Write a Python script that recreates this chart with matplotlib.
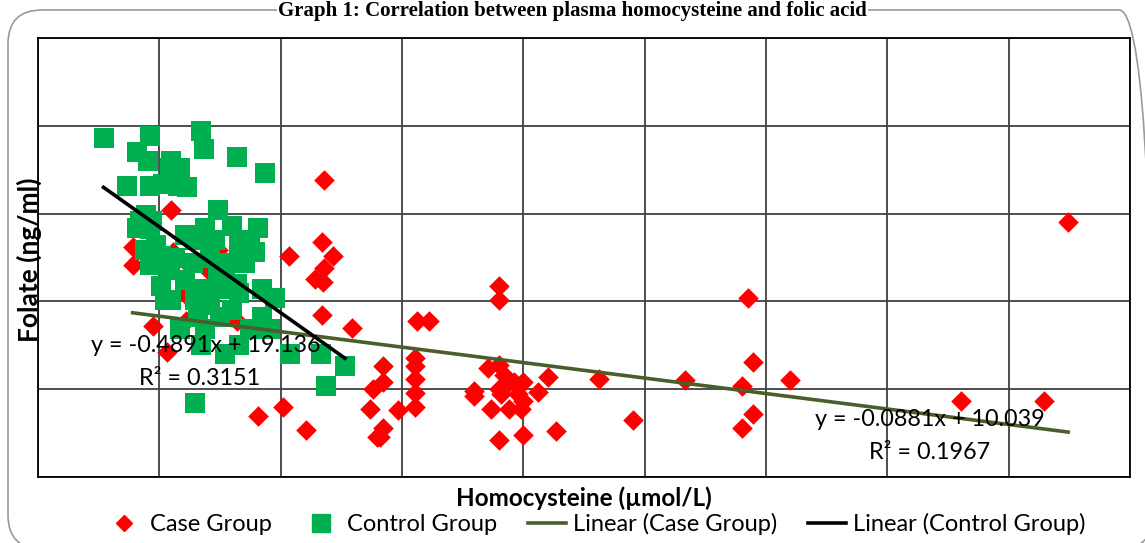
import matplotlib
matplotlib.use("Agg")
import numpy as np
import matplotlib.pyplot as plt
from matplotlib.patches import FancyBboxPatch
from matplotlib.lines import Line2D

# Case group (homocysteine, folate)
case_x = [11.0, 23.6, 23.4, 20.7, 24.3, 23.6, 22.8, 23.5, 23.4, 25.9, 16.4, 12.2, 9.5, 10.6,
          7.8, 7.8, 18.1, 20.2, 22.1, 27.6, 27.4, 27.9, 28.4, 28.4, 29.7, 28.4, 28.2,
          31.2, 32.2, 31.1, 31.1, 31.1, 31.1, 31.1,
          38.0, 38.0, 58.5, 37.1, 38.0, 38.4, 38.8, 38.0, 38.2, 39.2, 40.0, 39.6, 40.0,
          38.8, 39.8, 37.3, 35.9, 35.9, 38.0, 40.0, 42.7, 41.2, 42.0, 46.2, 49.0, 53.3,
          58.0, 58.0, 58.9, 58.9, 62.0, 76.1, 82.9, 84.9,
          11.1, 12.3, 14.0, 14.8, 12.3, 12.1, 11.3]
case_y = [15.2, 16.9, 13.4, 12.6, 12.6, 11.9, 11.3, 11.1, 9.2, 8.5, 8.9, 8.9, 8.6, 7.1,
          13.1, 12.1, 3.5, 4.0, 2.7, 5.0, 3.9, 2.3, 6.3, 5.4, 3.8, 2.8, 2.3,
          8.9, 8.9, 6.8, 6.3, 5.6, 4.8, 4.0,
          10.9, 10.1, 10.2, 6.2, 6.4, 5.8, 5.4, 5.0, 4.7, 5.4, 5.4, 4.7, 4.3,
          3.9, 3.9, 3.9, 4.9, 4.6, 2.1, 2.4, 2.6, 4.85, 5.7, 5.6, 3.25, 5.55,
          5.2, 2.8, 6.55, 3.6, 5.55, 4.3, 4.3, 14.5,
          12.8, 12.2, 11.8, 12.9, 10.3, 10.5, 12.5]

# Control group (homocysteine, folate)
ctrl_x = [5.4, 9.2, 8.2, 9.1, 11.0, 13.4, 13.7, 16.4, 18.7, 7.3, 9.2, 10.3, 11.5, 12.3,
          14.8, 13.8, 16.0, 18.1, 8.9, 8.2, 9.2, 12.1, 12.9, 14.6, 16.6, 17.5, 17.9,
          8.8, 10.1, 11.3, 12.8, 14.2, 15.7, 17.1, 9.2, 10.9, 12.1, 13.4, 15.0, 16.6,
          18.5, 19.5, 10.1, 11.0, 12.9, 14.2, 16.0, 18.5, 13.2, 15.0, 11.7, 13.8, 17.5,
          19.1, 20.8, 23.3, 25.3, 23.7, 12.9, 16.6, 15.4, 13.4, 10.5, 9.7, 15.4, 8.4,
          9.4, 10.9, 11.7, 14.8, 16.4]
ctrl_y = [19.3, 19.4, 18.5, 18.0, 18.0, 19.7, 18.7, 18.2, 17.3, 16.6, 16.6, 16.7, 16.6, 16.5,
          15.2, 14.2, 14.3, 14.2, 14.9, 14.2, 14.1, 13.8, 13.5, 13.5, 13.2, 13.5, 12.8,
          12.9, 12.6, 12.5, 12.2, 12.5, 12.2, 12.2, 12.1, 11.8, 11.2, 10.7, 10.7, 10.5,
          10.7, 10.2, 10.9, 10.1, 10.1, 9.8, 9.5, 9.1, 9.1, 9.1, 8.4, 8.4, 8.4,
          8.4, 7.0, 7.0, 6.3, 5.2, 4.2, 7.5, 7.0, 7.5, 10.1, 13.2, 11.2, 14.6,
          14.6, 17.6, 17.6, 11.7, 11.0]

# trend line coefficients shown on the chart
case_fit = (-0.0881, 10.039, 0.1967)
ctrl_fit = (-0.4891, 19.136, 0.3151)

fig = plt.figure(figsize=(11.45, 5.43), dpi=100)

box = FancyBboxPatch((8, -6), 1145, 543 - 4, boxstyle="round,pad=0,rounding_size=34",
                     transform=None, facecolor="none", edgecolor="#9a9a9a", lw=1.2)
fig.patches.append(box)

ax = fig.add_axes([38 / 1145, 1 - 477 / 543, (1130 - 38) / 1145, (477 - 38) / 543])
ax.set_xlim(0, 90)
ax.set_ylim(0, 25)
ax.set_xticks(np.arange(0, 91, 10))
ax.set_yticks(np.arange(0, 26, 5))
ax.tick_params(length=0, labelbottom=False, labelleft=False)
ax.grid(True, color="#404040", lw=1.3)
ax.set_axisbelow(True)
for s in ax.spines.values():
    s.set_color("black")
    s.set_linewidth(1.3)

ax.scatter(case_x, case_y, marker="D", s=110, color="#ff0000", lw=0, zorder=3)
ax.scatter(ctrl_x, ctrl_y, marker="s", s=190, color="#00b050", lw=0, zorder=4)

xs = np.array([min(case_x), max(case_x)])
ax.plot(xs, case_fit[0] * xs + case_fit[1], color="#4a5e2a", lw=2.6, zorder=5)
xs = np.array([min(ctrl_x), max(ctrl_x)])
ax.plot(xs, ctrl_fit[0] * xs + ctrl_fit[1], color="black", lw=2.6, zorder=6)

fnt = "Lato"
ax.text(13.8, 7.5, f"y = {ctrl_fit[0]}x + {ctrl_fit[1]}", ha="center", va="center",
        fontsize=16.8, family=fnt, zorder=7)
ax.text(13.35, 5.6, f"R² = {ctrl_fit[2]}", ha="center", va="center", fontsize=16.8, family=fnt, zorder=7)
ax.text(73.5, 3.25, f"y = {case_fit[0]}x + {case_fit[1]}", ha="center", va="center",
        fontsize=16.8, family=fnt, zorder=7)
ax.text(73.5, 1.42, f"R² = {case_fit[2]}", ha="center", va="center", fontsize=16.8, family=fnt, zorder=7)

fig.text(29 / 1145, 1 - 260 / 543, "Folate (ng/ml)", rotation=90, ha="center", va="center",
         fontsize=19, fontweight="bold", family=fnt)
fig.text(584 / 1145, 1 - 498 / 543, "Homocysteine (µmol/L)", ha="center", va="center",
         fontsize=17.5, fontweight="bold", family=fnt)

fig.text(0.5, 0.999, "Graph 1: Correlation between plasma homocysteine and folic acid",
         ha="center", va="top", fontsize=15, fontweight="bold", family="Liberation Serif",
         bbox=dict(facecolor="white", edgecolor="none", pad=1))

handles = [
    Line2D([], [], marker="D", ls="none", color="#ff0000", markersize=8),
    Line2D([], [], marker="s", ls="none", color="#00b050", markersize=13),
    Line2D([], [], color="#4a5e2a", lw=2.6),
    Line2D([], [], color="black", lw=2.6),
]
labels = ["Case Group", "Control Group", "Linear (Case Group)", "Linear (Control Group)"]
fig.legend(handles, labels, loc="center", bbox_to_anchor=(595 / 1145, 1 - 524 / 543), ncol=4,
           frameon=False, prop={"family": fnt, "size": 17}, handlelength=1.6,
           handletextpad=0.3, columnspacing=1.3, borderpad=0)

fig.savefig("out.png", dpi=100)
